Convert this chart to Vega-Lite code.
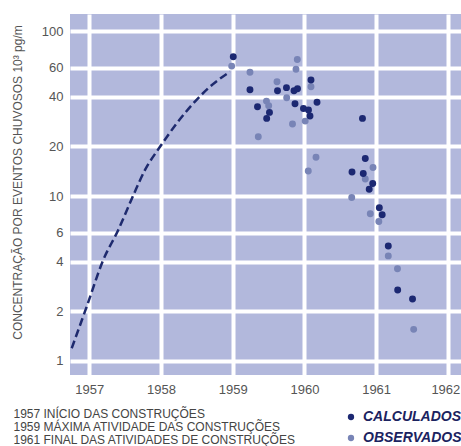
{
  "$schema": "https://vega.github.io/schema/vega-lite/v6.json",
  "width": 391,
  "height": 361,
  "autosize": "none",
  "padding": {"left": 70, "top": 14, "right": 0, "bottom": 71},
  "background": "white",
  "config": {
    "view": {"fill": "#b2b8dc", "stroke": null},
    "font": "Liberation Sans",
    "axis": {"gridWidth": 4, "gridColor": "#ffffff", "gridOpacity": 1}
  },
  "datasets": {
    "curva": [
      {"ano": 1956.755, "conc": 1.19},
      {"ano": 1956.964, "conc": 2.13},
      {"ano": 1957.195, "conc": 4.09},
      {"ano": 1957.404, "conc": 6.22},
      {"ano": 1957.614, "conc": 10.1},
      {"ano": 1957.777, "conc": 14.4},
      {"ano": 1957.986, "conc": 19.9},
      {"ano": 1958.219, "conc": 27.6},
      {"ano": 1958.45, "conc": 36.5},
      {"ano": 1958.683, "conc": 46.1},
      {"ano": 1958.962, "conc": 56.9}
    ],
    "pontos": [
      {"ano": 1958.986, "conc": 61.5, "tipo": "OBSERVADOS"},
      {"ano": 1959.241, "conc": 56.4, "tipo": "OBSERVADOS"},
      {"ano": 1959.618, "conc": 49.4, "tipo": "OBSERVADOS"},
      {"ano": 1959.901, "conc": 67.4, "tipo": "OBSERVADOS"},
      {"ano": 1959.883, "conc": 58.8, "tipo": "OBSERVADOS"},
      {"ano": 1959.471, "conc": 37.7, "tipo": "OBSERVADOS"},
      {"ano": 1959.502, "conc": 35.3, "tipo": "OBSERVADOS"},
      {"ano": 1959.753, "conc": 39.5, "tipo": "OBSERVADOS"},
      {"ano": 1960.092, "conc": 46.1, "tipo": "OBSERVADOS"},
      {"ano": 1959.357, "conc": 22.9, "tipo": "OBSERVADOS"},
      {"ano": 1959.834, "conc": 27.4, "tipo": "OBSERVADOS"},
      {"ano": 1960.011, "conc": 28.5, "tipo": "OBSERVADOS"},
      {"ano": 1960.162, "conc": 17.2, "tipo": "OBSERVADOS"},
      {"ano": 1960.054, "conc": 14.2, "tipo": "OBSERVADOS"},
      {"ano": 1960.957, "conc": 14.9, "tipo": "OBSERVADOS"},
      {"ano": 1960.849, "conc": 12.7, "tipo": "OBSERVADOS"},
      {"ano": 1960.66, "conc": 9.8, "tipo": "OBSERVADOS"},
      {"ano": 1960.919, "conc": 7.8, "tipo": "OBSERVADOS"},
      {"ano": 1961.038, "conc": 7.0, "tipo": "OBSERVADOS"},
      {"ano": 1961.17, "conc": 4.33, "tipo": "OBSERVADOS"},
      {"ano": 1961.298, "conc": 3.62, "tipo": "OBSERVADOS"},
      {"ano": 1961.524, "conc": 1.55, "tipo": "OBSERVADOS"},
      {"ano": 1959.008, "conc": 70.1, "tipo": "CALCULADOS"},
      {"ano": 1959.241, "conc": 44.2, "tipo": "CALCULADOS"},
      {"ano": 1959.346, "conc": 34.8, "tipo": "CALCULADOS"},
      {"ano": 1959.513, "conc": 32.2, "tipo": "CALCULADOS"},
      {"ano": 1959.474, "conc": 29.6, "tipo": "CALCULADOS"},
      {"ano": 1959.625, "conc": 43.6, "tipo": "CALCULADOS"},
      {"ano": 1959.75, "conc": 45.5, "tipo": "CALCULADOS"},
      {"ano": 1959.855, "conc": 43.6, "tipo": "CALCULADOS"},
      {"ano": 1959.904, "conc": 44.8, "tipo": "CALCULADOS"},
      {"ano": 1959.869, "conc": 36.3, "tipo": "CALCULADOS"},
      {"ano": 1960.092, "conc": 50.6, "tipo": "CALCULADOS"},
      {"ano": 1960.176, "conc": 37.1, "tipo": "CALCULADOS"},
      {"ano": 1959.987, "conc": 34.0, "tipo": "CALCULADOS"},
      {"ano": 1960.057, "conc": 33.3, "tipo": "CALCULADOS"},
      {"ano": 1960.078, "conc": 30.6, "tipo": "CALCULADOS"},
      {"ano": 1960.81, "conc": 29.6, "tipo": "CALCULADOS"},
      {"ano": 1960.849, "conc": 16.9, "tipo": "CALCULADOS"},
      {"ano": 1960.664, "conc": 14.0, "tipo": "CALCULADOS"},
      {"ano": 1960.821, "conc": 13.7, "tipo": "CALCULADOS"},
      {"ano": 1960.953, "conc": 11.9, "tipo": "CALCULADOS"},
      {"ano": 1960.904, "conc": 11.0, "tipo": "CALCULADOS"},
      {"ano": 1961.045, "conc": 8.5, "tipo": "CALCULADOS"},
      {"ano": 1961.085, "conc": 7.7, "tipo": "CALCULADOS"},
      {"ano": 1961.17, "conc": 4.97, "tipo": "CALCULADOS"},
      {"ano": 1961.301, "conc": 2.69, "tipo": "CALCULADOS"},
      {"ano": 1961.508, "conc": 2.37, "tipo": "CALCULADOS"}
    ]
  },
  "encoding": {
    "x": {
      "field": "ano",
      "type": "quantitative",
      "scale": {"domain": [1956.731, 1962.184], "nice": false, "zero": false},
      "axis": {
        "grid": true,
        "gridColor": "#ffffff",
        "gridWidth": 4,
        "gridOpacity": 1,
        "tickSize": 0,
        "domain": false,
        "values": [1957, 1958, 1959, 1960, 1961, 1962],
        "format": "d",
        "labelFont": "Liberation Sans",
        "labelFontSize": 13,
        "labelColor": "#555555",
        "labelPadding": 8,
        "labelFlush": 15,
        "labelFlushOffset": 12,
        "title": [
          "1957  INÍCIO DAS CONSTRUÇÕES",
          "1959  MÁXIMA ATIVIDADE DAS CONSTRUÇÕES",
          "1961  FINAL DAS ATIVIDADES DE CONSTRUÇÕES"
        ],
        "titleX": -57,
        "titleY": 33,
        "titleAlign": "left",
        "titleBaseline": "top",
        "titleFont": "Liberation Sans",
        "titleFontSize": 12,
        "titleFontWeight": "normal",
        "titleColor": "#444444",
        "titleLineHeight": 13.3
      }
    },
    "y": {
      "field": "conc",
      "type": "quantitative",
      "scale": {"type": "log", "domain": [0.819, 127.4], "nice": false},
      "axis": {
        "grid": true,
        "gridColor": "#ffffff",
        "gridWidth": 4,
        "gridOpacity": 1,
        "tickSize": 0,
        "domain": false,
        "values": [1, 2, 4, 6, 10, 20, 40, 60, 100],
        "format": "d",
        "labelFont": "Liberation Sans",
        "labelFontSize": 13,
        "labelColor": "#555555",
        "labelPadding": 7,
        "title": "CONCENTRAÇÃO POR EVENTOS CHUVOSOS 10³ pg/m",
        "titleX": -49,
        "titleY": 168,
        "titleBaseline": "alphabetic",
        "titleFont": "Liberation Sans",
        "titleFontSize": 12,
        "titleFontWeight": "normal",
        "titleColor": "#555555"
      }
    }
  },
  "layer": [
    {
      "data": {"name": "curva"},
      "mark": {"type": "line", "color": "#1e2a6e", "strokeWidth": 2.5, "strokeDash": [8, 4], "interpolate": "monotone"}
    },
    {
      "data": {"name": "pontos"},
      "mark": {"type": "circle", "size": 48, "opacity": 1},
      "encoding": {
        "color": {
          "field": "tipo",
          "type": "nominal",
          "scale": {"domain": ["CALCULADOS", "OBSERVADOS"], "range": ["#1c2872", "#7884b6"]},
          "legend": {
            "orient": "none",
            "legendX": 274,
            "legendY": 396,
            "title": null,
            "symbolType": "circle",
            "symbolSize": 40,
            "labelFont": "Liberation Sans",
            "labelFontSize": 14,
            "labelFontStyle": "italic",
            "labelFontWeight": "bold",
            "labelColor": "#1b2360",
            "labelOffset": 5,
            "rowPadding": 7
          }
        }
      }
    }
  ]
}
